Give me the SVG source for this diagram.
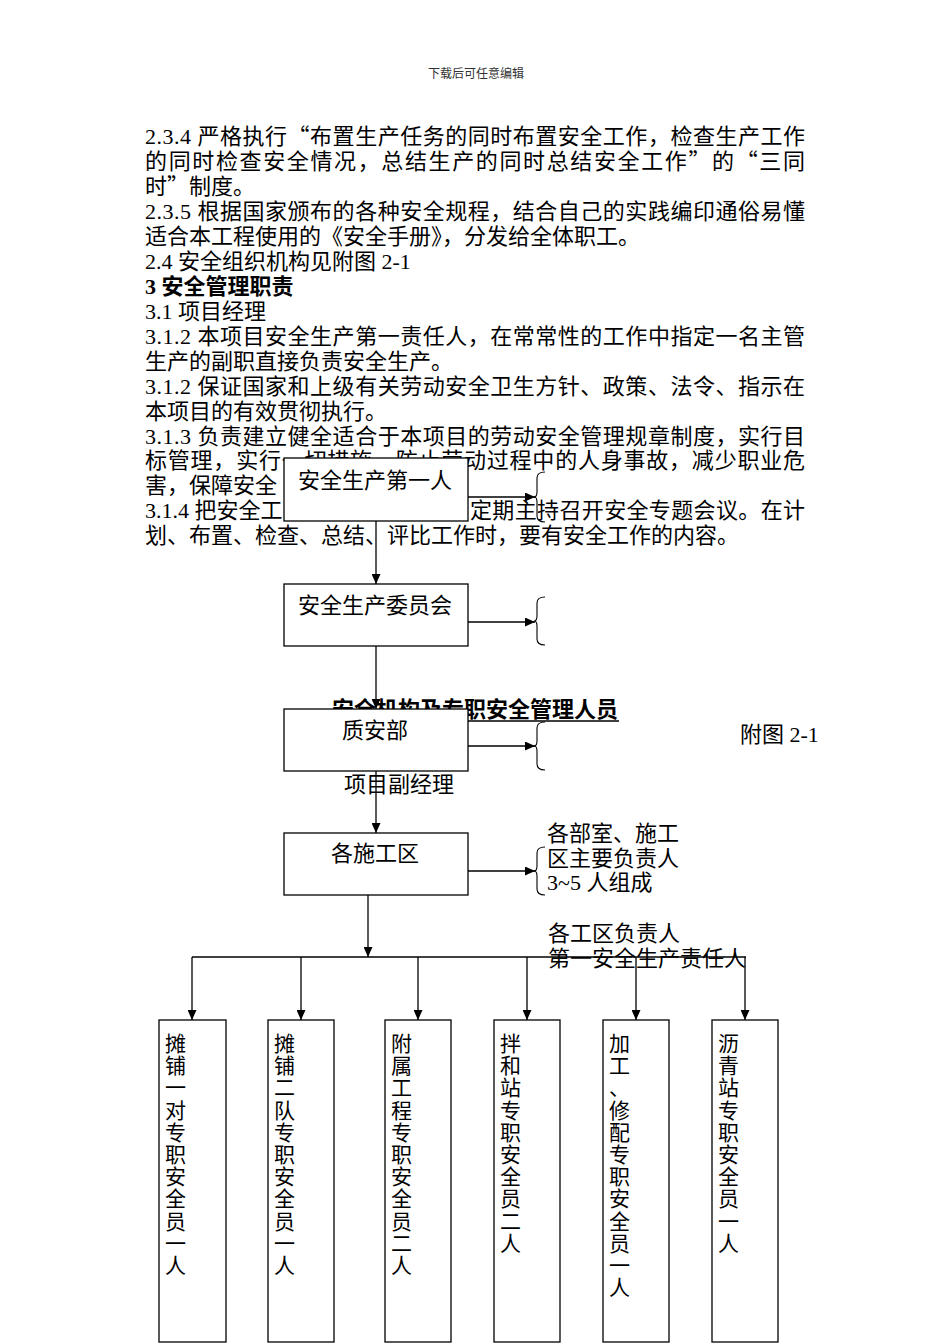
<svg xmlns="http://www.w3.org/2000/svg" width="950" height="1344" viewBox="0 0 950 1344">
<style>
.t { font-family: "Liberation Serif", "Noto Sans CJK SC", serif; font-size: 22px; fill: #000; }
.v { font-family: "Liberation Serif", "Noto Sans CJK SC", serif; font-size: 21px; fill: #000; }
.q { font-family: "Noto Sans CJK SC", sans-serif; }
.h { font-family: "Liberation Serif", "Noto Sans CJK SC", serif; font-size: 12px; fill: #333; }
.b { font-weight: bold; }
.box { fill: #fff; stroke: #000; stroke-width: 1.3; }
.ln { stroke: #000; stroke-width: 1.3; fill: none; }
.br { stroke: #000; stroke-width: 1.1; fill: none; }
</style>
<defs>
<marker id="ah" markerUnits="userSpaceOnUse" markerWidth="10" markerHeight="9" refX="10" refY="4.5" orient="auto">
<path d="M0,0 L10,4.5 L0,9 z" fill="#000"/>
</marker>
</defs>
<rect width="950" height="1344" fill="#fff"/>

<text class="h" x="476" y="78" text-anchor="middle">下载后可任意编辑</text>

<g id="body-text">
<text class="t" x="145" y="144" textLength="660" lengthAdjust="spacing">2.3.4 严格执行<tspan class="q">“</tspan>布置生产任务的同时布置安全工作，检查生产工作</text>
<text class="t" x="145" y="169" textLength="660" lengthAdjust="spacing">的同时检查安全情况，总结生产的同时总结安全工作<tspan class="q">”</tspan>的<tspan class="q">“</tspan>三同</text>
<text class="t" x="145" y="194">时<tspan class="q">”</tspan>制度。</text>
<text class="t" x="145" y="219" textLength="660" lengthAdjust="spacing">2.3.5 根据国家颁布的各种安全规程，结合自己的实践编印通俗易懂</text>
<text class="t" x="145" y="244">适合本工程使用的《安全手册》，分发给全体职工。</text>
<text class="t" x="145" y="269">2.4 安全组织机构见附图 2-1</text>
<text class="t b" x="145" y="294">3 安全管理职责</text>
<text class="t" x="145" y="319">3.1 项目经理</text>
<text class="t" x="145" y="344" textLength="660" lengthAdjust="spacing">3.1.2 本项目安全生产第一责任人，在常常性的工作中指定一名主管</text>
<text class="t" x="145" y="369">生产的副职直接负责安全生产。</text>
<text class="t" x="145" y="394" textLength="660" lengthAdjust="spacing">3.1.2 保证国家和上级有关劳动安全卫生方针、政策、法令、指示在</text>
<text class="t" x="145" y="419">本项目的有效贯彻执行。</text>
<text class="t" x="145" y="444" textLength="660" lengthAdjust="spacing">3.1.3 负责建立健全适合于本项目的劳动安全管理规章制度，实行目</text>
<text class="t" x="145" y="468" textLength="660" lengthAdjust="spacing">标管理，实行一切措施，防止劳动过程中的人身事故，减少职业危</text>
<text class="t" x="145" y="493">害，保障安全</text>
<text class="t" x="145" y="518">3.1.4 把安全工</text>
<text class="t" x="470" y="518" textLength="335" lengthAdjust="spacing">定期主持召开安全专题会议。在计</text>
<text class="t" x="145" y="543">划、布置、检查、总结、评比工作时，要有安全工作的内容。</text>
</g>

<g id="title">
<text class="t b" x="475" y="717" text-anchor="middle">安全机构及专职安全管理人员</text>
<line x1="332" y1="721" x2="619" y2="721" stroke="#000" stroke-width="1.5"/>
<text class="t" x="740" y="742">附图 2-1</text>
</g>

<g id="connectors">
<line class="ln" x1="376" y1="521" x2="376" y2="584" marker-end="url(#ah)"/>
<line class="ln" x1="376" y1="646" x2="376" y2="709" marker-end="url(#ah)"/>
<line class="ln" x1="376" y1="771" x2="376" y2="833" marker-end="url(#ah)"/>
<line class="ln" x1="368" y1="895" x2="368" y2="957" marker-end="url(#ah)"/>
<line class="ln" x1="468" y1="497" x2="535" y2="497" marker-end="url(#ah)"/>
<line class="ln" x1="468" y1="622" x2="535" y2="622" marker-end="url(#ah)"/>
<line class="ln" x1="468" y1="746" x2="535" y2="746" marker-end="url(#ah)"/>
<line class="ln" x1="468" y1="871" x2="535" y2="871" marker-end="url(#ah)"/>
<line class="ln" x1="192" y1="957" x2="746" y2="957"/>
<line class="ln" x1="192" y1="957" x2="192" y2="1020" marker-end="url(#ah)"/>
<line class="ln" x1="301" y1="957" x2="301" y2="1020" marker-end="url(#ah)"/>
<line class="ln" x1="418" y1="957" x2="418" y2="1020" marker-end="url(#ah)"/>
<line class="ln" x1="527" y1="957" x2="527" y2="1020" marker-end="url(#ah)"/>
<line class="ln" x1="636" y1="957" x2="636" y2="1020" marker-end="url(#ah)"/>
<line class="ln" x1="745" y1="957" x2="745" y2="1020" marker-end="url(#ah)"/>
</g>

<g id="brackets">
<path class="br" d="M545,472 Q537,472 537,478 L537,492 Q537,497 534,497 Q537,497 537,502 L537,516 Q537,522 545,522"/>
<path class="br" d="M545,597 Q537,597 537,603 L537,616 Q537,621 534,621 Q537,621 537,626 L537,639 Q537,645 545,645"/>
<path class="br" d="M545,722 Q537,722 537,728 L537,741 Q537,746 534,746 Q537,746 537,751 L537,764 Q537,770 545,770"/>
<path class="br" d="M545,847 Q537,847 537,853 L537,866 Q537,871 534,871 Q537,871 537,876 L537,889 Q537,895 545,895"/>
</g>

<g id="n1">
<rect class="box" x="284" y="458" width="184" height="63"/>
<text class="t" x="375" y="488" text-anchor="middle">安全生产第一人</text>
</g>
<g id="n2">
<rect class="box" x="284" y="584" width="184" height="62"/>
<text class="t" x="375" y="613" text-anchor="middle">安全生产委员会</text>
</g>
<g id="n3">
<rect class="box" x="284" y="709" width="184" height="62"/>
<text class="t" x="375" y="738" text-anchor="middle">质安部</text>
</g>
<text class="t" x="344" y="792">项目副经理</text>
<g id="n4">
<rect class="box" x="284" y="833" width="184" height="62"/>
<text class="t" x="375" y="861" text-anchor="middle">各施工区</text>
</g>
<g id="note4">
<text class="t" x="547" y="841">各部室、施工</text>
<text class="t" x="547" y="866">区主要负责人</text>
<text class="t" x="547" y="890">3~5 人组成</text>
</g>
<g id="note5">
<text class="t" x="548" y="941">各工区负责人</text>
<text class="t" x="548" y="966">第一安全生产责任人</text>
</g>

<g id="c1">
<rect class="box" x="159" y="1020" width="67" height="322"/>
<text class="v"><tspan x="165" y="1051">摊</tspan><tspan x="165" y="1073.2">铺</tspan><tspan x="165" y="1095.4">一</tspan><tspan x="165" y="1117.6">对</tspan><tspan x="165" y="1139.8">专</tspan><tspan x="165" y="1162">职</tspan><tspan x="165" y="1184.2">安</tspan><tspan x="165" y="1206.4">全</tspan><tspan x="165" y="1228.6">员</tspan><tspan x="165" y="1250.8">一</tspan><tspan x="165" y="1273">人</tspan></text>
</g>
<g id="c2">
<rect class="box" x="268" y="1020" width="66" height="322"/>
<text class="v"><tspan x="274" y="1051">摊</tspan><tspan x="274" y="1073.2">铺</tspan><tspan x="274" y="1095.4">二</tspan><tspan x="274" y="1117.6">队</tspan><tspan x="274" y="1139.8">专</tspan><tspan x="274" y="1162">职</tspan><tspan x="274" y="1184.2">安</tspan><tspan x="274" y="1206.4">全</tspan><tspan x="274" y="1228.6">员</tspan><tspan x="274" y="1250.8">一</tspan><tspan x="274" y="1273">人</tspan></text>
</g>
<g id="c3">
<rect class="box" x="385" y="1020" width="66" height="322"/>
<text class="v"><tspan x="391" y="1051">附</tspan><tspan x="391" y="1073.2">属</tspan><tspan x="391" y="1095.4">工</tspan><tspan x="391" y="1117.6">程</tspan><tspan x="391" y="1139.8">专</tspan><tspan x="391" y="1162">职</tspan><tspan x="391" y="1184.2">安</tspan><tspan x="391" y="1206.4">全</tspan><tspan x="391" y="1228.6">员</tspan><tspan x="391" y="1250.8">二</tspan><tspan x="391" y="1273">人</tspan></text>
</g>
<g id="c4">
<rect class="box" x="494" y="1020" width="66" height="322"/>
<text class="v"><tspan x="500" y="1051">拌</tspan><tspan x="500" y="1073.2">和</tspan><tspan x="500" y="1095.4">站</tspan><tspan x="500" y="1117.6">专</tspan><tspan x="500" y="1139.8">职</tspan><tspan x="500" y="1162">安</tspan><tspan x="500" y="1184.2">全</tspan><tspan x="500" y="1206.4">员</tspan><tspan x="500" y="1228.6">二</tspan><tspan x="500" y="1250.8">人</tspan></text>
</g>
<g id="c5">
<rect class="box" x="603" y="1020" width="66" height="322"/>
<text class="v"><tspan x="609" y="1051">加</tspan><tspan x="609" y="1073.2">工</tspan><tspan x="609" y="1095.4">、</tspan><tspan x="609" y="1117.6">修</tspan><tspan x="609" y="1139.8">配</tspan><tspan x="609" y="1162">专</tspan><tspan x="609" y="1184.2">职</tspan><tspan x="609" y="1206.4">安</tspan><tspan x="609" y="1228.6">全</tspan><tspan x="609" y="1250.8">员</tspan><tspan x="609" y="1273">一</tspan><tspan x="609" y="1295.2">人</tspan></text>
</g>
<g id="c6">
<rect class="box" x="712" y="1020" width="66" height="322"/>
<text class="v"><tspan x="718" y="1051">沥</tspan><tspan x="718" y="1073.2">青</tspan><tspan x="718" y="1095.4">站</tspan><tspan x="718" y="1117.6">专</tspan><tspan x="718" y="1139.8">职</tspan><tspan x="718" y="1162">安</tspan><tspan x="718" y="1184.2">全</tspan><tspan x="718" y="1206.4">员</tspan><tspan x="718" y="1228.6">一</tspan><tspan x="718" y="1250.8">人</tspan></text>
</g>
</svg>
